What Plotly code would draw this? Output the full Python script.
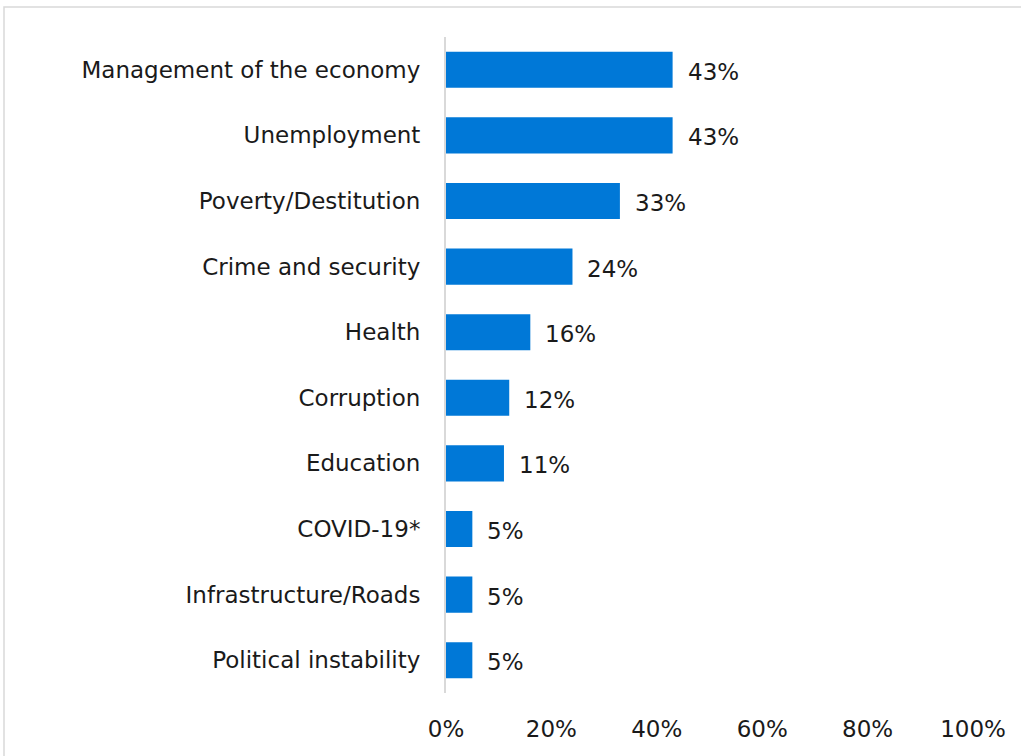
import plotly.graph_objects as go

categories = ["Management of the economy", "Unemployment", "Poverty/Destitution",
              "Crime and security", "Health", "Corruption", "Education",
              "COVID-19*", "Infrastructure/Roads", "Political instability"]
values = [0.43, 0.43, 0.33, 0.24, 0.16, 0.12, 0.11, 0.05, 0.05, 0.05]
value_labels = ["43%", "43%", "33%", "24%", "16%", "12%", "11%", "5%", "5%", "5%"]
tick_vals = [0, 0.2, 0.4, 0.6, 0.8, 1.0]
tick_text = ["0%", "20%", "40%", "60%", "80%", "100%"]

FONT = "DejaVu Sans"
TXT = "#1a1a1a"
FS = 23

fig = go.Figure(go.Bar(
    y=categories, x=values, orientation="h",
    marker=dict(color="#0078D7", line=dict(width=0)),
    width=0.55,
))

for c, v, t in zip(categories, values, value_labels):
    fig.add_annotation(x=v, y=c, text=t, xanchor="left", yanchor="middle",
                       xshift=13, yshift=-2, showarrow=False,
                       font=dict(family=FONT, size=FS, color=TXT))

W, H = 1021, 756
L, R, T, B = 446, 48, 37, 63
pw, ph = W - L - R, H - T - B
fig.add_shape(type="rect", xref="paper", yref="paper",
              x0=(4 - L) / pw, x1=(W + 20 - L) / pw,
              y0=-(H + 20 - (H - B)) / ph, y1=((H - B) - 7) / ph,
              line=dict(color="#d9d9d9", width=1.5), fillcolor="rgba(0,0,0,0)",
              layer="below")

fig.update_layout(
    width=W, height=H,
    margin=dict(l=L, r=R, t=T, b=B),
    paper_bgcolor="white", plot_bgcolor="white",
    showlegend=False,
    font=dict(family=FONT, size=FS, color=TXT),
    xaxis=dict(range=[0, 1], tickvals=tick_vals, ticktext=tick_text,
               showgrid=False, zeroline=False, showline=False,
               ticks="", ticklabelstandoff=20,
               tickfont=dict(family=FONT, size=FS, color=TXT)),
    yaxis=dict(autorange="reversed", showgrid=False, zeroline=False,
               showline=True, linecolor="#d9d9d9", linewidth=2,
               ticks="", ticklabelstandoff=19,
               tickfont=dict(family=FONT, size=FS, color=TXT)),
)

fig.write_html("out.html")
